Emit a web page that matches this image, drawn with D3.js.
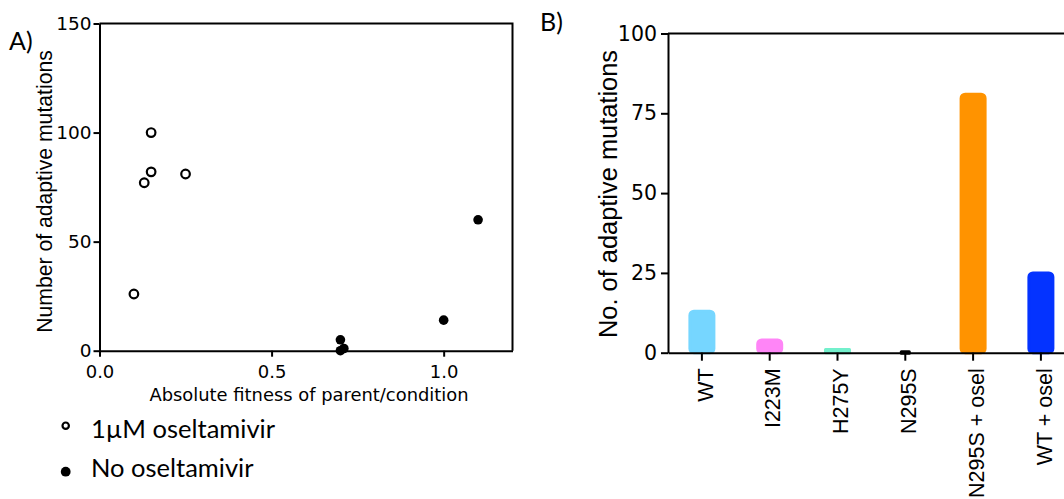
<!DOCTYPE html>
<html>
<head>
<meta charset="utf-8">
<script src="https://cdn.jsdelivr.net/npm/d3@7"></script>
<style>
  body { margin: 0; background: #fff; }
  svg { display: block; }
  .axis path, .axis line { stroke: #000; stroke-width: 2; }
</style>
</head>
<body>
<div id="graph"></div>
<script>
// panel A data: fitness vs number of adaptive mutations
var oselFitness = [0.15, 0.15, 0.13, 0.25, 0.10];
var oselMutations = [100, 82, 77, 81, 26];
var noOselFitness = [1.1, 1.0, 0.7, 0.7, 0.71];
var noOselMutations = [60, 14, 5, 0, 1];
var xTicksA = [0, 0.5, 1.0];
var yTicksA = [0, 50, 100, 150];

// panel B data
var categories = ["WT", "I223M", "H275Y", "N295S", "N295S + osel", "WT + osel"];
var counts = [13, 4, 1, 0, 81, 25];
var barColors = ["#76d6ff", "#ff85f7", "#73f0cc", "#000000", "#ff9300", "#0433ff"];
var yTicksB = [0, 25, 50, 75, 100];

var svg = d3.select("#graph")
  .append("svg")
    .attr("width", 1064)
    .attr("height", 499);

// ---------- panel A ----------
var xA = d3.scaleLinear().domain([0, 1.2]).range([99.5, 512.5]);
var yA = d3.scaleLinear().domain([0, 150]).range([350.7, 23.5]);

// box (top + right)
svg.append("path")
  .attr("fill", "none")
  .attr("stroke", "#000")
  .attr("stroke-width", 2)
  .attr("d", "M" + xA.range()[0] + "," + yA(150) + "H" + xA.range()[1] + "V" + yA(0));

var axA = svg.append("g")
  .attr("class", "axis")
  .attr("transform", "translate(0," + yA(0) + ")")
  .call(d3.axisBottom(xA).tickValues(xTicksA).tickFormat(d3.format(".1f"))
    .tickSize(6).tickSizeOuter(0).tickPadding(9));
axA.attr("font-family", "DejaVu Sans").attr("font-size", 18);

var ayA = svg.append("g")
  .attr("class", "axis")
  .attr("transform", "translate(" + xA(0) + ",0)")
  .call(d3.axisLeft(yA).tickValues(yTicksA).tickSize(6).tickSizeOuter(0).tickPadding(2));
ayA.attr("font-family", "DejaVu Sans").attr("font-size", 18.5);

svg.append("text")
  .attr("x", 309)
  .attr("y", 401)
  .attr("text-anchor", "middle")
  .attr("font-family", "DejaVu Sans")
  .attr("font-size", 17.9)
  .text("Absolute fitness of parent/condition");

svg.append("text")
  .attr("transform", "translate(52.4,191.5) rotate(-90)")
  .attr("text-anchor", "middle")
  .attr("font-family", "Liberation Sans, Arial")
  .attr("font-size", 21.2)
  .text("Number of adaptive mutations");

// points
svg.append("g").selectAll("circle")
  .data(oselFitness)
  .join("circle")
    .attr("cx", function(d) { return xA(d); })
    .attr("cy", function(d, i) { return yA(oselMutations[i]); })
    .attr("r", 4.3)
    .attr("fill", "#fff")
    .attr("stroke", "#000")
    .attr("stroke-width", 2.2);

svg.append("g").selectAll("circle")
  .data(noOselFitness)
  .join("circle")
    .attr("cx", function(d) { return xA(d); })
    .attr("cy", function(d, i) { return yA(noOselMutations[i]); })
    .attr("r", 4.8)
    .attr("fill", "#000");

// legend
svg.append("circle").attr("cx", 65.7).attr("cy", 425.7).attr("r", 3.2)
  .attr("fill", "#fff").attr("stroke", "#000").attr("stroke-width", 2.2);
svg.append("circle").attr("cx", 65.7).attr("cy", 471.7).attr("r", 4.9).attr("fill", "#000");
svg.append("text").attr("x", 91).attr("y", 438.3)
  .attr("font-family", "Lato").attr("font-size", 25.5)
  .text("1\u00b5M oseltamivir");
svg.append("text").attr("x", 91).attr("y", 476.7)
  .attr("font-family", "Lato").attr("font-size", 25.5)
  .text("No oseltamivir");

svg.append("text").attr("x", 9).attr("y", 50)
  .attr("font-family", "Lato").attr("font-size", 25)
  .text("A)");

// ---------- panel B ----------
var xB = d3.scaleBand().domain(categories)
  .range([668, 668 + categories.length * 67.8])
  .paddingInner(0.646).paddingOuter(0.323);
var yB = d3.scaleLinear().domain([0, 100]).range([352.7, 33.5]);

svg.append("text").attr("x", 540).attr("y", 30.7)
  .attr("font-family", "Lato").attr("font-size", 25)
  .text("B)");

// bars (a zero bar still shows as a small dash)
var bw = xB.bandwidth();
svg.append("g").selectAll("rect")
  .data(categories)
  .join("rect")
    .attr("x", function(d, i) { return counts[i] > 0 ? xB(d) : xB(d) + bw / 3; })
    .attr("y", function(d, i) { return counts[i] > 0 ? yB(counts[i]) : yB(0) - 1; })
    .attr("width", function(d, i) { return counts[i] > 0 ? bw : bw / 3; })
    .attr("height", function(d, i) { return counts[i] > 0 ? yB(0) - yB(counts[i]) : 1.5; })
    .attr("rx", function(d, i) { return counts[i] > 1 ? 4 : 0; })
    .attr("fill", function(d, i) { return barColors[i]; })
    .attr("stroke", function(d, i) { return barColors[i]; })
    .attr("stroke-width", 3)
    .attr("stroke-linejoin", "round");

// top line
svg.append("line")
  .attr("x1", xB.range()[0]).attr("x2", xB.range()[1])
  .attr("y1", yB(100)).attr("y2", yB(100))
  .attr("stroke", "#000").attr("stroke-width", 2);

var axB = svg.append("g")
  .attr("class", "axis")
  .attr("transform", "translate(0," + yB(0) + ")")
  .call(d3.axisBottom(xB).tickSize(8).tickSizeOuter(0));
axB.attr("font-family", "Liberation Sans, Arial").attr("font-size", 21.5);
axB.selectAll("text")
  .attr("transform", "rotate(-90)")
  .attr("x", -15.6)
  .attr("y", 0)
  .attr("dy", "0.5em")
  .style("text-anchor", "end");

var ayB = svg.append("g")
  .attr("class", "axis")
  .attr("transform", "translate(" + xB.range()[0] + ",0)")
  .call(d3.axisLeft(yB).tickValues(yTicksB).tickSize(7).tickSizeOuter(0).tickPadding(4));
ayB.attr("font-family", "DejaVu Sans").attr("font-size", 20.5);

svg.append("text")
  .attr("transform", "translate(616.8,194) rotate(-90)")
  .attr("text-anchor", "middle")
  .attr("font-family", "Liberation Sans, Arial")
  .attr("font-size", 25.4)
  .text("No. of adaptive mutations");
</script>
</body>
</html>
